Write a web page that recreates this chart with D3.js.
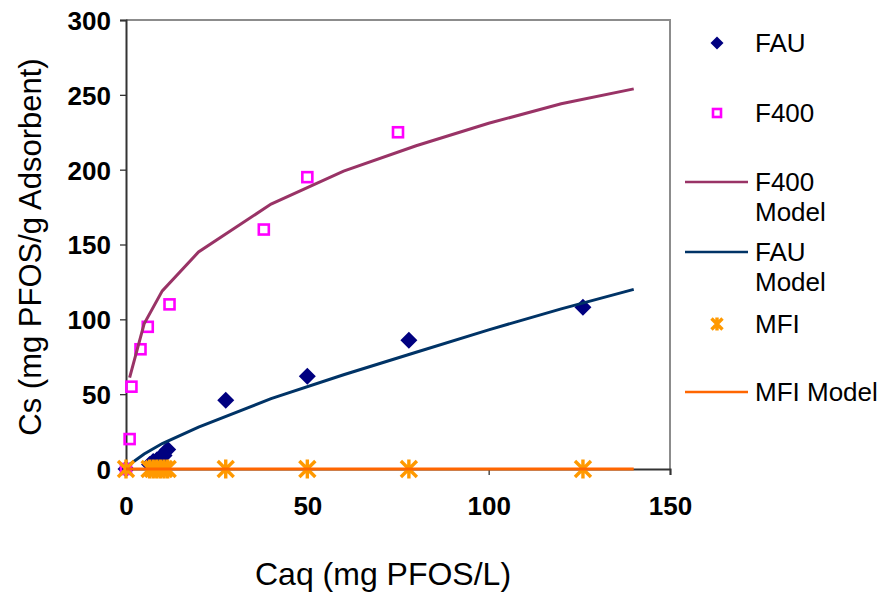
<!DOCTYPE html>
<html>
<head>
<meta charset="utf-8">
<script src="https://cdn.jsdelivr.net/npm/d3@7"></script>
<style>
  body { margin: 0; background: #fff; }
  svg { display: block; font-family: "Liberation Sans", Arial, sans-serif; }
</style>
</head>
<body>
<svg id="chart" width="883" height="596"></svg>
<script>
// measured points
const fauCaq = [0, 6.5, 7.5, 8.5, 9.5, 10.5, 11.5, 27.5, 50, 78, 126];
const fauCs = [0, 3, 5, 6, 8, 9, 13, 46, 62, 86, 108];
const f400Caq = [0, 1, 1.5, 4, 6, 12, 38, 50, 75];
const f400Cs = [0, 20, 55, 80, 95, 110, 160, 195, 225];
const mfiCaq = [0, 6.5, 7.5, 8.5, 9.5, 10.5, 11.5, 27.5, 50, 78, 126];
const mfiCs = [0, 0, 0, 0, 0, 0, 0, 0, 0, 0, 0];

// model curves
const modelCaq = [1, 5, 10, 20, 40, 60, 80, 100, 120, 140];
const f400Model = [61, 97, 119, 145, 177, 199, 216, 231, 244, 254];
const fauModel = [3, 10, 17, 28, 47, 63, 78, 93, 107, 120];
const mfiModelCaq = [0, 140];
const mfiModel = [0, 0];

const xTicks = [0, 50, 100, 150];
const yTicks = [0, 50, 100, 150, 200, 250, 300];

const svg = d3.select("#chart");
const plotL = 126, plotR = 670, plotT = 20, plotB = 469;

const x = d3.scaleLinear().domain([0, 150]).range([plotL, plotR]);
const y = d3.scaleLinear().domain([0, 300]).range([plotB, plotT]);

// plot area border (top + right)
svg.append("path")
  .attr("d", `M${plotL},${plotT}H${plotR}V${plotB}`)
  .attr("fill", "none")
  .attr("stroke", "#8c8c8c")
  .attr("stroke-width", 2);

// axes
const xAxis = svg.append("g")
  .attr("transform", `translate(0,${plotB})`)
  .call(d3.axisBottom(x).tickValues(xTicks).tickSize(6).tickPadding(22));
const yAxis = svg.append("g")
  .attr("transform", `translate(${plotL},0)`)
  .call(d3.axisLeft(y).tickValues(yTicks).tickSize(6).tickPadding(9));

[xAxis, yAxis].forEach(a => {
  a.select(".domain").attr("stroke", "#333").attr("stroke-width", 2);
  a.selectAll(".tick line").attr("stroke", "#333").attr("stroke-width", 1.3);
  a.selectAll(".tick text")
    .attr("font-family", "Liberation Sans, Arial, sans-serif")
    .attr("font-size", 26)
    .attr("font-weight", "bold")
    .attr("fill", "#000");
});
yAxis.selectAll(".tick text").attr("dy", "0.36em");

const line = d3.line().x(d => x(d[0])).y(d => y(d[1]));

const series = {
  fau: d3.zip(fauCaq, fauCs),
  f400: d3.zip(f400Caq, f400Cs),
  f400Model: d3.zip(modelCaq, f400Model),
  fauModel: d3.zip(modelCaq, fauModel),
  mfi: d3.zip(mfiCaq, mfiCs),
  mfiModel: d3.zip(mfiModelCaq, mfiModel)
};

function diamond(g, cx, cy, r) {
  g.append("path")
    .attr("d", `M${cx},${cy - r}L${cx + r},${cy}L${cx},${cy + r}L${cx - r},${cy}Z`)
    .attr("fill", "#000080");
}
function square(g, cx, cy, s) {
  g.append("rect")
    .attr("x", cx - s / 2).attr("y", cy - s / 2)
    .attr("width", s).attr("height", s)
    .attr("fill", "none")
    .attr("stroke", "#ff00ff")
    .attr("stroke-width", 2.6);
}
function star(g, cx, cy, r) {
  g.append("path")
    .attr("d", `M${cx - r},${cy - r}L${cx + r},${cy + r}M${cx - r},${cy + r}L${cx + r},${cy - r}M${cx},${cy - r * 1.2}V${cy + r * 1.2}`)
    .attr("stroke", "#ff9900")
    .attr("stroke-width", 3.4)
    .attr("fill", "none");
}

const plot = svg.append("g");

// FAU
series.fau.forEach(d => diamond(plot, x(d[0]), y(d[1]), 8.5));
// F400
series.f400.forEach(d => square(plot, x(d[0]), y(d[1]), 10));
// F400 Model
plot.append("path").datum(series.f400Model).attr("d", line)
  .attr("fill", "none").attr("stroke", "#993366").attr("stroke-width", 3);
// FAU Model
plot.append("path").datum(series.fauModel).attr("d", line)
  .attr("fill", "none").attr("stroke", "#003366").attr("stroke-width", 3);
// MFI
series.mfi.forEach(d => star(plot, x(d[0]), y(d[1]), 8));
// MFI Model
plot.append("path").datum(series.mfiModel).attr("d", line)
  .attr("fill", "none").attr("stroke", "#ff6600").attr("stroke-width", 3);

// axis titles
svg.append("text")
  .attr("x", 383).attr("y", 574)
  .attr("text-anchor", "middle").attr("dy", "0.35em")
  .attr("font-size", 32)
  .text("Caq (mg PFOS/L)");
svg.append("text")
  .attr("transform", "translate(30,247) rotate(-90)")
  .attr("text-anchor", "middle").attr("dy", "0.35em")
  .attr("font-size", 31)
  .text("Cs (mg PFOS/g Adsorbent)");

// legend
const legend = svg.append("g");
const lx = 755;
const legendItems = [
  { lines: ["FAU"], y: 43, kind: "diamond" },
  { lines: ["F400"], y: 113, kind: "square" },
  { lines: ["F400", "Model"], y: 182, kind: "line", color: "#993366" },
  { lines: ["FAU", "Model"], y: 252, kind: "line", color: "#003366" },
  { lines: ["MFI"], y: 324, kind: "star" },
  { lines: ["MFI Model"], y: 392, kind: "line", color: "#ff6600" }
];
legendItems.forEach(it => {
  if (it.kind === "diamond") diamond(legend, 717, it.y, 6.5);
  else if (it.kind === "square") square(legend, 717, it.y, 8);
  else if (it.kind === "star") star(legend, 717, it.y, 5.5);
  else legend.append("line")
    .attr("x1", 685).attr("x2", 748).attr("y1", it.y).attr("y2", it.y)
    .attr("stroke", it.color).attr("stroke-width", 2.5);
  it.lines.forEach((t, i) => {
    legend.append("text")
      .attr("x", lx).attr("y", it.y + i * 30)
      .attr("dy", "0.35em")
      .attr("font-size", 26)
      .text(t);
  });
});
</script>
</body>
</html>
